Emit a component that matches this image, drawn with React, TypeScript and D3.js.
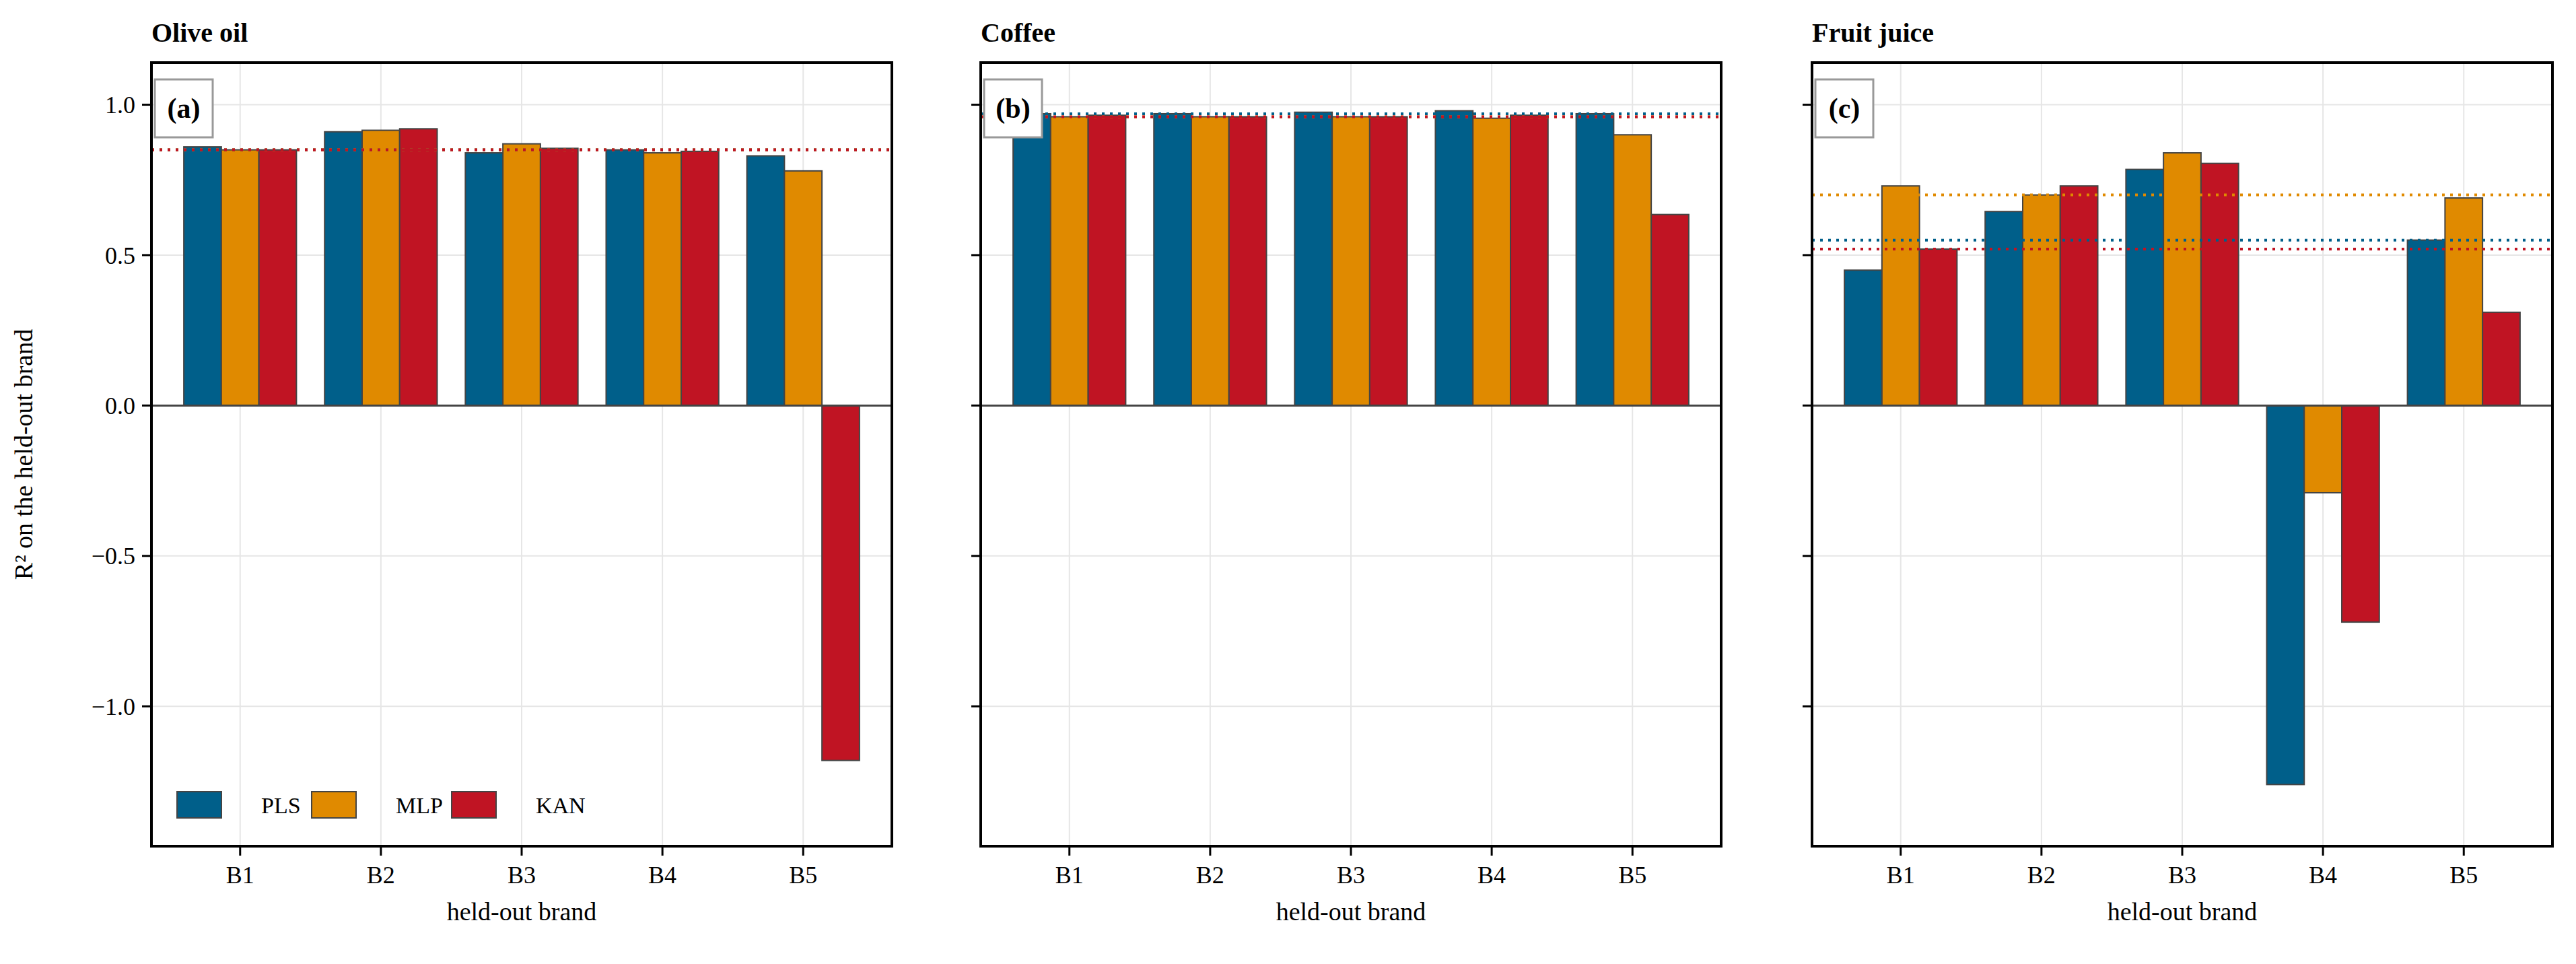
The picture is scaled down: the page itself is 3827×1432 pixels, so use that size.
import React from "react";
import * as d3 from "d3";

const brands = ["B1", "B2", "B3", "B4", "B5"];
const models = ["PLS", "MLP", "KAN"];
const colors = ["#005f8a", "#e08a00", "#c01423"];
const panelTitles = ["Olive oil", "Coffee", "Fruit juice"];
const panelTags = ["(a)", "(b)", "(c)"];
const oliveOil = [
  [0.86, 0.91, 0.84, 0.85, 0.83],
  [0.85, 0.915, 0.87, 0.84, 0.78],
  [0.85, 0.92, 0.855, 0.845, -1.18],
];
const coffee = [
  [0.97, 0.97, 0.975, 0.98, 0.97],
  [0.96, 0.96, 0.96, 0.955, 0.9],
  [0.965, 0.96, 0.96, 0.965, 0.635],
];
const fruitJuice = [
  [0.45, 0.645, 0.785, -1.26, 0.55],
  [0.73, 0.7, 0.84, -0.29, 0.69],
  [0.52, 0.73, 0.805, -0.72, 0.31],
];
const panels = [oliveOil, coffee, fruitJuice];
const yTicks = [-1.0, -0.5, 0.0, 0.5, 1.0];

const W = 3827, H = 1432;
const panelX = [225, 1457, 2692];
const panelW = 1100;
const top = 93, bottom = 1257;
const font = "'Liberation Serif', 'DejaVu Serif', serif";

export default function App() {
  const y = d3.scaleLinear().domain([-1.465, 1.14]).range([bottom, top]);
  const bw = 0.8 / 3;
  return (
    <svg width={W} height={H} style={{ display: "block", position: "absolute", left: 0, top: 0 }} fontFamily={font}>
      <rect width={W} height={H} fill="#fff" />
      {panels.map((data, p) => {
        const x0 = panelX[p];
        const x = d3.scaleLinear().domain([-0.63, 4.63]).range([x0, x0 + panelW]);
        return (
          <g key={p}>
            {brands.map((b, i) => (
              <line key={b} x1={x(i)} x2={x(i)} y1={top} y2={bottom} stroke="#e6e6e6" strokeWidth={2} />
            ))}
            {yTicks.map((t) => (
              <line key={t} x1={x0} x2={x0 + panelW} y1={y(t)} y2={y(t)} stroke="#e6e6e6" strokeWidth={2} />
            ))}
            {data.map((vals, m) =>
              vals.map((v, i) => {
                const xl = x(i - 0.4 + m * bw);
                const xr = x(i - 0.4 + (m + 1) * bw);
                return (
                  <rect key={m + "-" + i} x={xl} width={xr - xl} y={Math.min(y(v), y(0))} height={Math.abs(y(v) - y(0))}
                    fill={colors[m]} stroke="#444" strokeWidth={2} />
                );
              })
            )}
            <line x1={x0} x2={x0 + panelW} y1={y(0)} y2={y(0)} stroke="#444" strokeWidth={3} />
            {data.map((vals, m) => {
              const med = d3.median(vals) as number;
              return (
                <line key={"m" + m} x1={x0} x2={x0 + panelW} y1={y(med)} y2={y(med)} stroke={colors[m]} strokeWidth={4} strokeDasharray="4 8" />
              );
            })}
            <rect x={x0} y={top} width={panelW} height={bottom - top} fill="none" stroke="#000" strokeWidth={4} />
            {yTicks.map((t) => (
              <g key={"t" + t}>
                <line x1={x0 - 14} x2={x0} y1={y(t)} y2={y(t)} stroke="#000" strokeWidth={3} />
                {p === 0 && (
                  <text x={x0 - 24} y={y(t)} dy="0.35em" textAnchor="end" fontSize={36}>{t.toFixed(1).replace("-", "\u2212")}</text>
                )}
              </g>
            ))}
            {brands.map((b, i) => (
              <g key={"x" + b}>
                <line x1={x(i)} x2={x(i)} y1={bottom} y2={bottom + 14} stroke="#000" strokeWidth={3} />
                <text x={x(i)} y={bottom + 55} textAnchor="middle" fontSize={36}>{b}</text>
              </g>
            ))}
            <text x={x0 + panelW / 2} y={bottom + 110} textAnchor="middle" fontSize={38}>held-out brand</text>
            <text x={x0} y={62} fontSize={40} fontWeight="bold">{panelTitles[p]}</text>
            <rect x={x0 + 5} y={118} width={86} height={86} fill="#fff" stroke="#999" strokeWidth={3} />
            <text x={x0 + 48} y={175} textAnchor="middle" fontSize={42} fontWeight="bold">{panelTags[p]}</text>
          </g>
        );
      })}
      <text transform={`translate(48,${(top + bottom) / 2}) rotate(-90)`} textAnchor="middle" fontSize={38}>R² on the held-out brand</text>
      {models.map((m, i) => {
        const lx = [263, 463, 671][i];
        return (
          <g key={m}>
            <rect x={lx} y={1176} width={66} height={39} fill={colors[i]} stroke="#444" strokeWidth={2} />
            <text x={lx + 125} y={1196} dy="0.35em" fontSize={34}>{m}</text>
          </g>
        );
      })}
    </svg>
  );
}
